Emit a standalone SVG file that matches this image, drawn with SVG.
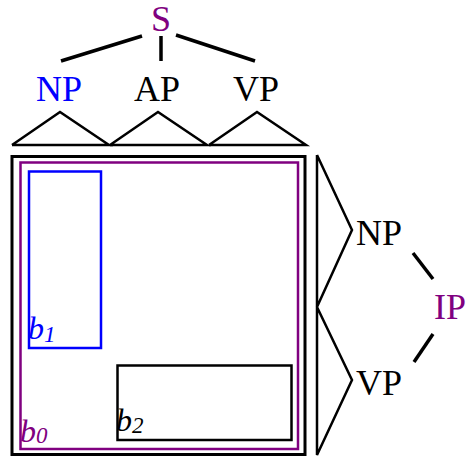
<svg xmlns="http://www.w3.org/2000/svg" width="467" height="457" viewBox="0 0 467 457">
<style>
text{font-family:"Liberation Serif","Times New Roman",serif;}
.lbl{font-size:36px;}
.b{font-size:32px;font-style:italic;}
.sub{font-size:23px;font-style:italic;}
.edge{stroke:#000;stroke-width:3.5;fill:none;}
.tri{stroke:#000;stroke-width:2.5;fill:none;stroke-linejoin:miter;}
</style>
<rect width="467" height="457" fill="#fff"/>
<g id="connectors">
<line class="edge" x1="142" y1="36" x2="61" y2="61"/>
<line class="edge" x1="161" y1="36" x2="161" y2="61"/>
<line class="edge" x1="176" y1="35" x2="255" y2="61"/>
<polyline class="tri" points="12,145 60,112 109,145 12,145"/>
<polyline class="tri" points="110,145 158,112 207,145 110,145"/>
<polyline class="tri" points="209,145 257,112 306,145 209,145"/>
<polyline class="tri" points="317,155 352,230 317,307 352,380 317,455 317,155"/>
<line class="edge" x1="413" y1="253" x2="433" y2="279"/>
<line class="edge" x1="433" y1="334" x2="414" y2="362"/>
</g>
<g id="S"><text class="lbl" x="161" y="31" text-anchor="middle" fill="#800080">S</text></g>
<g id="NP-top"><text class="lbl" x="36" y="101" fill="#0000ff">NP</text></g>
<g id="AP"><text class="lbl" x="134" y="101" fill="#000">AP</text></g>
<g id="VP-top"><text class="lbl" x="233" y="101" fill="#000">VP</text></g>
<g id="box-outer"><rect x="12" y="156.5" width="293" height="298" fill="none" stroke="#000" stroke-width="3"/></g>
<g id="b0">
<rect x="20.5" y="162.5" width="277.5" height="286.5" fill="none" stroke="#800080" stroke-width="2.5"/>
<text x="20" y="442" fill="#800080"><tspan class="b">b</tspan><tspan class="sub" dy="1">0</tspan></text>
</g>
<g id="b1">
<rect x="29" y="171.5" width="72" height="176.5" fill="none" stroke="#0000ff" stroke-width="2.5"/>
<text x="28" y="339" fill="#0000ff"><tspan class="b">b</tspan><tspan class="sub" dy="3">1</tspan></text>
</g>
<g id="b2">
<rect x="117.5" y="365.5" width="174" height="74.5" fill="none" stroke="#000" stroke-width="2.5"/>
<text x="116" y="431" fill="#000"><tspan class="b">b</tspan><tspan class="sub" dy="2">2</tspan></text>
</g>
<g id="NP-right"><text class="lbl" x="356" y="245" fill="#000">NP</text></g>
<g id="VP-right"><text class="lbl" x="356" y="395" fill="#000">VP</text></g>
<g id="IP"><text class="lbl" x="434" y="319" fill="#800080">IP</text></g>
</svg>
